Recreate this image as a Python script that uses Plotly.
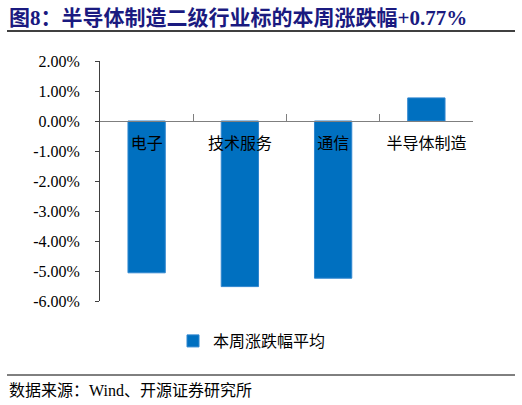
import plotly.graph_objects as go

categories = ["电子", "技术服务", "通信", "半导体制造"]
values = [-5.06, -5.52, -5.24, 0.77]
series_name = "本周涨跌幅平均"
tick_vals = [2, 1, 0, -1, -2, -3, -4, -5, -6]
tick_text = ["2.00%", "1.00%", "0.00%", "-1.00%", "-2.00%", "-3.00%", "-4.00%", "-5.00%", "-6.00%"]
title_text = "图8：半导体制造二级行业标的本周涨跌幅+0.77%"
source_text = "数据来源：Wind、开源证券研究所"

FONT = "Liberation Serif, Times New Roman, Noto Sans CJK SC, serif"
W, H = 522, 405
L, R, T, B = 100, 49, 61, 104
pw, ph = W - L - R, H - T - B

def px(x):
    return (x - L) / pw

def py(y):
    return (H - B - y) / ph

fig = go.Figure()
fig.add_trace(go.Bar(
    x=categories, y=values, name=series_name,
    marker=dict(color="#0070C0", line=dict(color="#2F86CF", width=1)),
    width=0.4, showlegend=True,
))

fig.update_layout(
    width=W, height=H,
    margin=dict(l=L, r=R, t=T, b=B),
    paper_bgcolor="white", plot_bgcolor="white",
    font=dict(family=FONT, size=16, color="black"),
    showlegend=True,
    legend=dict(orientation="h", x=px(173), y=py(324), xanchor="left", yanchor="top",
                itemwidth=30, font=dict(size=16, family=FONT), bgcolor="rgba(0,0,0,0)"),
    xaxis=dict(
        anchor="free", position=0.75, showline=True, linecolor="#7F7F7F", linewidth=1,
        ticks="inside", ticklen=7, tickcolor="#7F7F7F", tickson="boundaries",
        showgrid=False, zeroline=False, tickfont=dict(size=16, family=FONT),
        ticklabelstandoff=8, range=[-0.5, 3.5],
    ),
    yaxis=dict(
        range=[-6, 2], tickvals=tick_vals, ticktext=tick_text,
        showline=True, linecolor="#404040", linewidth=1, ticks="outside", ticklen=4,
        tickcolor="#404040", showgrid=False, zeroline=False,
        tickfont=dict(size=16, family=FONT), ticklabelstandoff=12,
    ),
    bargap=0.6,
)

fig.add_annotation(text="<b>" + title_text + "</b>", xref="paper", yref="paper",
                   x=px(7), y=py(18), xanchor="left", yanchor="middle", showarrow=False,
                   font=dict(size=21, color="#1A1A80", family=FONT))
fig.add_annotation(text=source_text, xref="paper", yref="paper",
                   x=px(7), y=py(390), xanchor="left", yanchor="middle", showarrow=False,
                   font=dict(size=16, color="black", family=FONT))
fig.add_shape(type="line", xref="paper", yref="paper", x0=px(7), x1=px(515), y0=py(31), y1=py(31),
              line=dict(color="black", width=1.5))
fig.add_shape(type="line", xref="paper", yref="paper", x0=px(7), x1=px(515), y0=py(375), y1=py(375),
              line=dict(color="black", width=1))

fig.write_html("out.html")
